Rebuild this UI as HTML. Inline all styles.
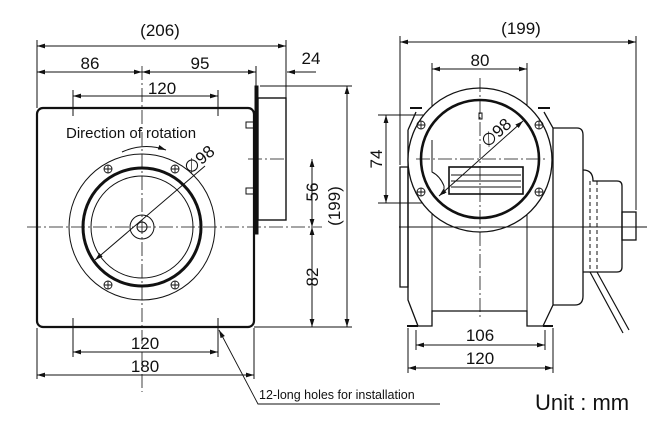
<!DOCTYPE html>
<html><head><meta charset="utf-8"><style>
html,body{margin:0;padding:0;background:#fff;width:672px;height:434px;overflow:hidden}
svg{display:block}
text{font-family:"Liberation Sans","DejaVu Sans",sans-serif;fill:#111}
</style></head><body>
<svg width="672" height="434" viewBox="0 0 672 434" xmlns="http://www.w3.org/2000/svg">
<defs>
<marker id="a" viewBox="0 0 10 6" refX="10" refY="3" markerWidth="8" markerHeight="5" orient="auto-start-reverse" markerUnits="userSpaceOnUse"><path d="M0,0 L10,3 L0,6 z" fill="#111"/></marker>
</defs>
<g stroke="#111" fill="none" stroke-width="1">
<!-- LEFT VIEW -->
<rect x="37" y="108" width="217" height="219" rx="6" stroke-width="2.2"/>
<circle cx="142" cy="227" r="73"/>
<circle cx="142" cy="227" r="59" stroke-width="3"/>
<circle cx="142" cy="227" r="51"/>
<circle cx="142" cy="227" r="12"/>
<circle cx="142" cy="227" r="5"/>
<g stroke-width="0.9">
<circle cx="108" cy="169" r="4"/><path d="M104,169h8M108,165v8"/>
<circle cx="175" cy="169" r="4"/><path d="M171,169h8M175,165v8"/>
<circle cx="108" cy="285" r="4"/><path d="M104,285h8M108,281v8"/>
<circle cx="175" cy="285" r="4"/><path d="M171,285h8M175,281v8"/>
</g>
<path d="M122,152 Q144,142 166,150" marker-end="url(#a)"/>
<line x1="95" y1="260" x2="205" y2="166" marker-start="url(#a)"/>
<!-- centerlines -->
<line x1="142" y1="66" x2="142" y2="392" stroke-dasharray="14,3,2,3" stroke-width="0.8"/>
<line x1="27" y1="227" x2="322" y2="227" stroke-dasharray="14,3,2,3" stroke-width="0.8"/>
<line x1="248" y1="159" x2="286" y2="159" stroke-dasharray="14,3,2,3" stroke-width="0.8"/>
<!-- side flange -->
<rect x="255" y="86" width="3" height="148" fill="#111"/>
<rect x="258" y="98" width="28" height="122" stroke-width="1.4"/>
<rect x="246" y="122" width="9" height="6"/>
<rect x="246" y="188" width="9" height="6"/>
<!-- dims top -->
<line x1="37" y1="40" x2="37" y2="108"/>
<line x1="286" y1="40" x2="286" y2="98"/>
<line x1="256" y1="66" x2="256" y2="86"/>
<line x1="37" y1="46" x2="286" y2="46" marker-start="url(#a)" marker-end="url(#a)"/>
<line x1="37" y1="72" x2="142" y2="72" marker-start="url(#a)" marker-end="url(#a)"/>
<line x1="142" y1="72" x2="256" y2="72" marker-start="url(#a)" marker-end="url(#a)"/>
<line x1="316" y1="72" x2="287" y2="72" marker-end="url(#a)"/>
<line x1="73" y1="90" x2="73" y2="116"/><line x1="218" y1="90" x2="218" y2="116"/>
<line x1="73" y1="96" x2="218" y2="96" marker-start="url(#a)" marker-end="url(#a)"/>
<!-- dims right -->
<line x1="260" y1="86" x2="352" y2="86"/>
<line x1="254" y1="327" x2="352" y2="327"/>
<line x1="347" y1="86" x2="347" y2="327" marker-start="url(#a)" marker-end="url(#a)"/>
<line x1="312" y1="159" x2="312" y2="227" marker-start="url(#a)" marker-end="url(#a)"/>
<line x1="312" y1="227" x2="312" y2="327" marker-start="url(#a)" marker-end="url(#a)"/>
<!-- dims bottom -->
<line x1="73" y1="318" x2="73" y2="357"/><line x1="218" y1="318" x2="218" y2="357"/>
<line x1="37" y1="328" x2="37" y2="379"/><line x1="254" y1="328" x2="254" y2="379"/>
<line x1="73" y1="352" x2="218" y2="352" marker-start="url(#a)" marker-end="url(#a)"/>
<line x1="37" y1="375" x2="254" y2="375" marker-start="url(#a)" marker-end="url(#a)"/>
<!-- leader -->
<polyline points="440,404 258,404 219,330" marker-end="url(#a)" stroke-width="0.9"/>

<!-- RIGHT VIEW -->
<line x1="400" y1="36" x2="400" y2="165"/>
<line x1="636" y1="36" x2="636" y2="210"/>
<line x1="400" y1="42" x2="636" y2="42" marker-start="url(#a)" marker-end="url(#a)"/>
<line x1="432" y1="63" x2="432" y2="311"/>
<line x1="527" y1="63" x2="527" y2="311"/>
<line x1="432" y1="69" x2="527" y2="69" marker-start="url(#a)" marker-end="url(#a)"/>
<line x1="378" y1="115" x2="432" y2="115"/>
<line x1="378" y1="203" x2="432" y2="203"/>
<line x1="386" y1="115" x2="386" y2="203" marker-start="url(#a)" marker-end="url(#a)"/>
<!-- body -->
<path d="M400,167 H408 V287 H400 Z" stroke-width="1.3"/>
<path d="M408,130 L416,112 M408,130 V300 L418,326 H407 M418,326 H432 V311 H527 V326 H543 L553,305 V128 L544,112" stroke-width="1.3"/>
<path d="M543,326 H553" stroke-width="2"/><path d="M407,326 H418" stroke-width="2"/>
<path d="M410,108 H422 M538,108 H550" stroke-width="2"/>
<path d="M553,128 H577 Q583,128 583,135 V296 Q583,305 575,305 H553" stroke-width="1.3"/>
<path d="M583,170 Q593,170 593,181 H617 Q622,181 622,186 V267 Q622,272 617,272 H583" stroke-width="1.3"/>
<rect x="622" y="212" width="14" height="28" stroke-width="1.3"/>
<line x1="590" y1="181" x2="590" y2="272" stroke-dasharray="4,3"/>
<line x1="597" y1="181" x2="597" y2="272" stroke-dasharray="4,3"/>
<path d="M590,272 L623,333 M597,272 L629,330" stroke-width="1.2"/>
<circle cx="480" cy="160" r="72" fill="#fff" stroke-width="1.3"/>
<circle cx="480" cy="159" r="59" stroke-width="2.6"/>
<rect x="449" y="167" width="74" height="27" stroke-width="1.6"/>
<path d="M451,175H521M451,181H521M451,187H521"/>
<path d="M432,140 V172 Q440,176 444,186 V194"/>
<rect x="479" y="113" width="3" height="6"/>
<g stroke-width="0.9">
<circle cx="421" cy="125" r="4"/><path d="M417,125h8M421,121v8"/>
<circle cx="539" cy="125" r="4"/><path d="M535,125h8M539,121v8"/>
<circle cx="421" cy="192" r="4"/><path d="M417,192h8M421,188v8"/>
<circle cx="539" cy="192" r="4"/><path d="M535,192h8M539,188v8"/>
</g>
<line x1="439" y1="196" x2="523" y2="121" marker-start="url(#a)" marker-end="url(#a)"/>
<line x1="399" y1="227" x2="647" y2="227" stroke-width="0.9"/>
<line x1="416" y1="159" x2="546" y2="159" stroke-dasharray="14,3,2,3" stroke-width="0.8"/>
<line x1="480" y1="78" x2="480" y2="318" stroke-dasharray="14,3,2,3" stroke-width="0.8"/>
<line x1="408" y1="328" x2="408" y2="373"/><line x1="553" y1="328" x2="553" y2="373"/>
<line x1="416" y1="330" x2="416" y2="350"/><line x1="545" y1="330" x2="545" y2="350"/>
<line x1="416" y1="345" x2="545" y2="345" marker-start="url(#a)" marker-end="url(#a)"/>
<line x1="408" y1="368" x2="553" y2="368" marker-start="url(#a)" marker-end="url(#a)"/>
</g>
<g font-size="17" text-anchor="middle">
<text x="160" y="36">(206)</text>
<text x="90" y="69">86</text>
<text x="200" y="69">95</text>
<text x="311" y="64">24</text>
<text x="162" y="94">120</text>
<text x="145" y="349">120</text>
<text x="145" y="372">180</text>
<text transform="translate(318,192) rotate(-90)">56</text>
<text transform="translate(318,277) rotate(-90)">82</text>
<text transform="translate(340,206) rotate(-90)">(199)</text>
<text x="521" y="34">(199)</text>
<text x="480" y="66">80</text>
<text transform="translate(382,159) rotate(-90)">74</text>
<text x="480" y="341">106</text>
<text x="480" y="364">120</text>
<text transform="translate(203,164) rotate(-40)">∅98</text>
<text transform="translate(500,137) rotate(-42)">∅98</text>
</g>
<text x="66" y="138" font-size="15">Direction of rotation</text>
<text x="259" y="399" font-size="12.5">12-long holes for installation</text>
<text x="535" y="410" font-size="22">Unit : mm</text>
</svg>
</body></html>
